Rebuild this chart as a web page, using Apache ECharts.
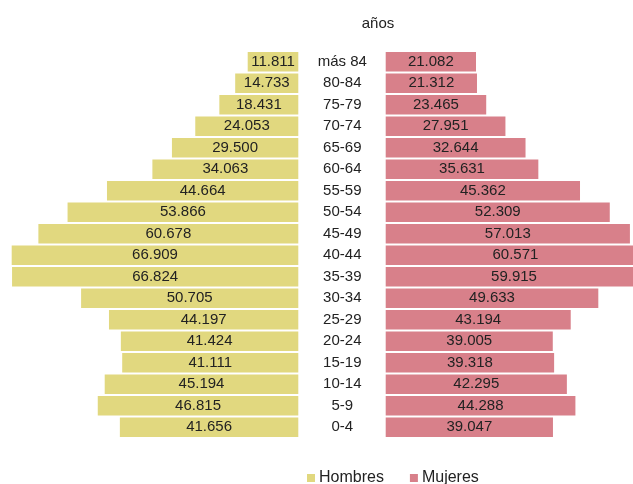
<!DOCTYPE html>
<html>
<head>
<meta charset="utf-8">
<script src="https://cdn.jsdelivr.net/npm/echarts@6/dist/echarts.min.js"></script>
<style>
  html, body { margin: 0; padding: 0; background: #fff; }
  #main { width: 633px; height: 484px; }
</style>
</head>
<body>
<div id="main"></div>
<script>
var edades = ['más 84', '80-84', '75-79', '70-74', '65-69', '60-64', '55-59', '50-54', '45-49',
              '40-44', '35-39', '30-34', '25-29', '20-24', '15-19', '10-14', '5-9', '0-4'];
var hombres = [11.811, 14.733, 18.431, 24.053, 29.500, 34.063, 44.664, 53.866, 60.678,
               66.909, 66.824, 50.705, 44.197, 41.424, 41.111, 45.194, 46.815, 41.656];
var mujeres = [21.082, 21.312, 23.465, 27.951, 32.644, 35.631, 45.362, 52.309, 57.013,
               60.571, 59.915, 49.633, 43.194, 39.005, 39.318, 42.295, 44.288, 39.047];

var fmt = function (p) { return p.value.toFixed(3); };
var txt = '#222';
var fuente = 'Liberation Sans';
// misma escala en ambos lados: 287 px para 67 unidades; el lado derecho se corta en el borde
var escala = 287 / 67;

var myChart = echarts.init(document.getElementById('main'));
myChart.setOption({
  animation: false,
  textStyle: { fontFamily: fuente },
  title: {
    text: 'años',
    left: 378, top: 16, padding: 0,
    textAlign: 'center',
    textStyle: { fontSize: 15, fontWeight: 'normal', color: txt, fontFamily: fuente }
  },
  legend: {
    data: ['Hombres', 'Mujeres'],
    left: 307, top: 470, padding: 0,
    icon: 'rect', itemWidth: 8, itemHeight: 8, itemGap: 26,
    textStyle: { fontSize: 16, color: txt, fontFamily: fuente, padding: [0, 0, 0, -1] }
  },
  grid: [
    { left: 11.3, width: 287, top: 51, height: 387 },
    { left: 385.7, right: 0, top: 51, height: 387 }
  ],
  xAxis: [
    { gridIndex: 0, type: 'value', min: 0, max: 67, inverse: true, show: false },
    { gridIndex: 1, type: 'value', min: 0, max: (633 - 385.7) / escala, show: false }
  ],
  yAxis: [
    { gridIndex: 0, type: 'category', data: edades, inverse: true, position: 'right',
      axisLine: { show: false }, axisTick: { show: false },
      axisLabel: { align: 'center', margin: 44, fontSize: 15, color: txt, fontFamily: fuente } },
    { gridIndex: 1, type: 'category', data: edades, inverse: true, show: false }
  ],
  series: [
    { name: 'Hombres', type: 'bar', xAxisIndex: 0, yAxisIndex: 0, data: hombres,
      barCategoryGap: '9%', itemStyle: { color: '#E1D87F' },
      label: { show: true, position: 'inside', formatter: fmt, fontSize: 15, color: txt, fontFamily: fuente } },
    { name: 'Mujeres', type: 'bar', xAxisIndex: 1, yAxisIndex: 1, data: mujeres, clip: false,
      barCategoryGap: '9%', itemStyle: { color: '#D8808A' },
      label: { show: true, position: 'inside', formatter: fmt, fontSize: 15, color: txt, fontFamily: fuente } }
  ]
});
</script>
</body>
</html>
